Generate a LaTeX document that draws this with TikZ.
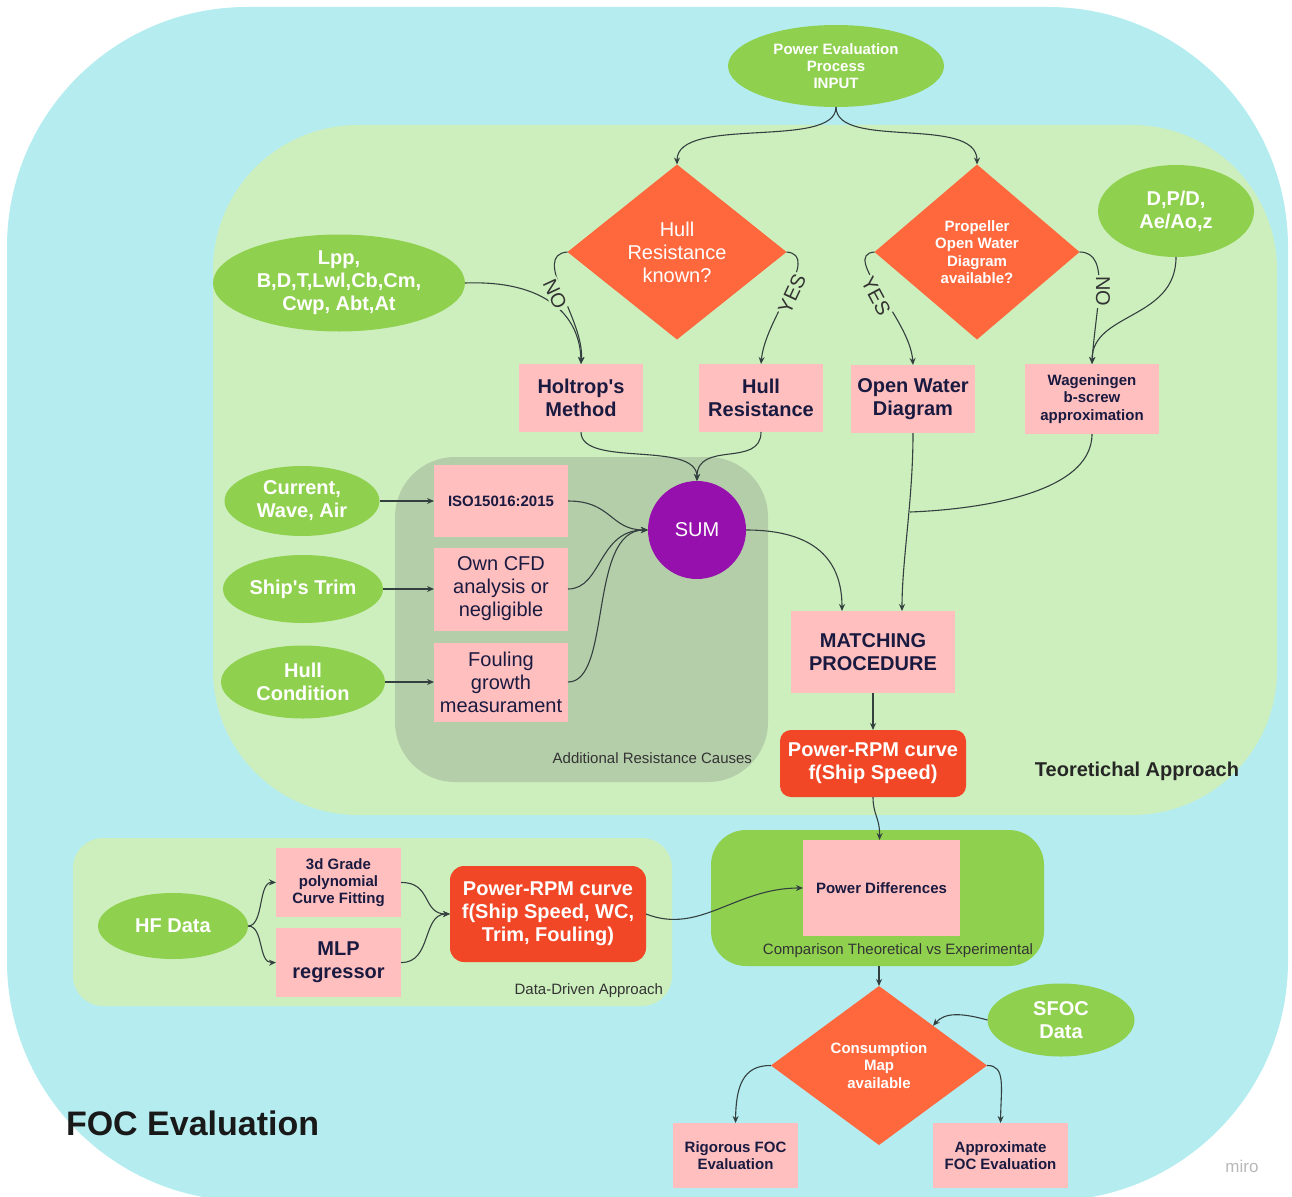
\documentclass[tikz,border=0pt]{standalone}
\usepackage{fontspec}
\setmainfont{Liberation Sans}
\usetikzlibrary{arrows.meta,shapes.geometric}

\definecolor{bluebg}{RGB}{180,236,240}
\definecolor{greenbg}{RGB}{205,239,189}
\definecolor{graybg}{RGB}{181,206,170}
\definecolor{ellg}{RGB}{143,209,79}
\definecolor{dia}{RGB}{255,104,61}
\definecolor{redbox}{RGB}{242,71,38}
\definecolor{pinkbox}{RGB}{255,191,191}
\definecolor{purp}{RGB}{149,16,172}
\definecolor{navy}{RGB}{26,26,64}
\definecolor{linec}{RGB}{52,64,64}
\definecolor{lbltext}{RGB}{51,51,51}

\newcommand\szbig{\fontsize{20}{23}\selectfont}
\newcommand\szsmall{\fontsize{15}{17.3}\selectfont}
\newcommand\sztitle{\fontsize{34}{39}\selectfont}

\tikzset{
  every node/.style={outer sep=0pt, inner sep=0pt},
  conn/.style={draw=linec, line width=1.1pt, -{Stealth[length=7pt,width=6pt]}},
  plainline/.style={draw=linec, line width=1.1pt},
  inellipse/.style={ellipse, fill=ellg, text=white, align=center, font=\bfseries\szbig},
  decision/.style={diamond, fill=dia, text=white, align=center},
  pinkrect/.style={rectangle, fill=pinkbox, text=navy, align=center},
  redrect/.style={rectangle, rounded corners=11pt, fill=redbox, text=white, align=center, font=\bfseries\szbig},
  branch/.style={fill=greenbg, inner sep=1.5pt, text=lbltext, font=\szbig},
  regionlabel/.style={text=lbltext, font=\szsmall}
}

\begin{document}
\begin{tikzpicture}[x=1pt,y=-1pt]
\useasboundingbox (0,0) rectangle (1292,1196);
\clip (0,0) rectangle (1292,1196);

% background regions
\fill[bluebg, rounded corners=240pt] (7,7) rectangle (1288,1201);
\fill[greenbg, rounded corners=145pt] (213,125) rectangle (1277,815);
\fill[graybg, rounded corners=60pt] (395,457) rectangle (768,782);
\fill[greenbg, rounded corners=30pt] (73,838) rectangle (672,1006);
\node[fill=ellg, rounded corners=35pt, minimum width=333, minimum height=136] (cmp) at (877.5,898) {};

% region captions
\node[regionlabel, anchor=east] (capar) at (752,758) {Additional Resistance Causes};
\node[text=black!85, font=\bfseries\szbig] (capta) at (1137,771) {Teoretichal Approach};
\node[regionlabel, anchor=east] (capdd) at (663,991) {Data-Driven Approach};
\node[regionlabel] (capcmp) at (898,951) {Comparison Theoretical vs Experimental};
\node[text=black!90, font=\bfseries\sztitle, anchor=west] (title) at (66,1123) {FOC Evaluation};
\node[text=black!28, font=\fontsize{17}{20}\selectfont] (wm) at (1242,1166) {miro};

% input and decisions
\node[inellipse, font=\bfseries\szsmall, minimum width=216, minimum height=82] (inp) at (836,66) {Power Evaluation\\Process\\INPUT};
\node[decision, font=\szbig, minimum width=219, minimum height=175] (d1) at (677,252) {Hull\\Resistance\\known?};
\node[decision, font=\bfseries\szsmall, minimum width=205, minimum height=175] (d2) at (977,252) {Propeller\\Open Water\\Diagram\\available?};

% hull and propeller inputs
\node[inellipse, minimum width=252, minimum height=97] (lpp) at (339,283) {Lpp,\\B,D,T,Lwl,Cb,Cm,\\Cwp, Abt,At};
\node[inellipse, minimum width=156, minimum height=92] (dpd) at (1176,211) {D,P/D,\\Ae/Ao,z};

\node[pinkrect, font=\bfseries\szbig, minimum width=124, minimum height=68] (holt) at (581,398) {Holtrop\textquotesingle s\\Method};
\node[pinkrect, font=\bfseries\szbig, minimum width=124, minimum height=68] (hr) at (761,398) {Hull\\Resistance};
\node[pinkrect, font=\bfseries\szbig, minimum width=124, minimum height=68] (ow) at (913,399) {Open Water\\Diagram};
\node[pinkrect, font=\bfseries\szsmall, minimum width=134, minimum height=70] (wag) at (1092,399) {Wageningen\\b-screw\\approximation};

% additional resistance causes
\node[inellipse, minimum width=155, minimum height=70] (cur) at (302,501) {Current,\\Wave, Air};
\node[inellipse, minimum width=160, minimum height=68] (trim) at (303,589) {Ship\textquotesingle s Trim};
\node[inellipse, minimum width=164, minimum height=73] (hc) at (303,682) {Hull\\Condition};

\node[pinkrect, font=\bfseries\szsmall, minimum width=134, minimum height=72] (iso) at (501,501) {ISO15016:2015};
\node[pinkrect, font=\szbig, minimum width=134, minimum height=83] (cfd) at (501,589) {Own CFD\\analysis or\\negligible};
\node[pinkrect, font=\szbig, minimum width=134, minimum height=79] (foul) at (501,682) {Fouling\\growth\\measurament};

\node[circle, fill=purp, text=white, font=\szbig, minimum size=98] (sum) at (697,530) {SUM};

\node[pinkrect, font=\bfseries\szbig, minimum width=164, minimum height=82] (match) at (873,652) {MATCHING\\PROCEDURE};
\node[redrect, minimum width=186, minimum height=67] (rpmA) at (873,763.5) {Power-RPM curve\\f(Ship Speed)};

% data-driven approach
\node[inellipse, minimum width=150, minimum height=66] (hf) at (173,926) {HF Data};
\node[pinkrect, font=\bfseries\szsmall, minimum width=125, minimum height=69] (poly) at (338.5,882.5) {3d Grade\\polynomial\\Curve Fitting};
\node[pinkrect, font=\bfseries\szbig, minimum width=125, minimum height=69] (mlp) at (338.5,962.5) {MLP\\regressor};
\node[redrect, rounded corners=14pt, minimum width=196, minimum height=96] (rpmB) at (548,914) {Power-RPM curve\\f(Ship Speed, WC,\\Trim, Fouling)};

% comparison and consumption
\node[pinkrect, font=\bfseries\szsmall, minimum width=157, minimum height=96] (pd) at (881.5,888) {Power Differences};
\node[decision, font=\bfseries\szsmall, minimum width=216, minimum height=159] (cons) at (879,1065.5) {Consumption\\Map\\available};
\node[inellipse, minimum width=147, minimum height=73] (sfoc) at (1061,1020) {SFOC\\Data};
\node[pinkrect, font=\bfseries\szsmall, minimum width=125, minimum height=65] (rig) at (735.5,1155.5) {Rigorous FOC\\Evaluation};
\node[pinkrect, font=\bfseries\szsmall, minimum width=135, minimum height=65] (app) at (1000.5,1155.5) {Approximate\\FOC Evaluation};

% connectors: input to decisions
\draw[conn] (inp.south) .. controls (836,150) and (677,115) .. (d1.north);
\draw[conn] (inp.south) .. controls (836,150) and (977,115) .. (d2.north);

% decision branches
\draw[conn] (d1.west) .. controls (530,255) and (585,320) .. (holt.north);
\draw[conn] (lpp.east) .. controls (545,280) and (580,315) .. (holt.north);
\draw[conn] (d1.east) .. controls (822,255) and (765,318) .. (hr.north);
\draw[conn] (d2.west) .. controls (840,255) and (910,318) .. (ow.north);
\draw[conn] (d2.east) .. controls (1112,252) and (1095,310) .. (wag.north);
\draw[conn] (dpd.south) .. controls (1176,320) and (1092,312) .. (wag.north);

\node[branch, rotate=-65] (lno) at (555,294) {NO};
\node[branch, rotate=65] (lyes) at (792,294) {YES};
\node[branch, rotate=-62] (ryes) at (876,296) {YES};
\node[branch, rotate=-90] (rno) at (1103,291) {NO};

% resistance contributions to the sum
\draw[conn] (holt.south) .. controls (581,468) and (697,440) .. (sum.north);
\draw[conn] (hr.south) .. controls (761,468) and (697,440) .. (sum.north);
\draw[conn] (cur.east) -- (iso.west);
\draw[conn] (trim.east) -- (cfd.west);
\draw[conn] (hc.east) -- (foul.west);
\draw[conn] (iso.east) .. controls (612,501) and (610,530) .. (sum.west);
\draw[conn] (cfd.east) .. controls (602,589) and (598,530) .. (sum.west);
\draw[conn] (foul.east) .. controls (612,682) and (588,530) .. (sum.west);

% matching procedure
\coordinate (join) at (910,512);
\draw[conn] (sum.east) .. controls (815,530) and (842,560) .. ([xshift=-31pt]match.north);
\draw[conn] (ow.south) .. controls (913,500) and (902,560) .. ([xshift=29pt]match.north);
\draw[plainline] (wag.south) .. controls (1092,497) and (965,510) .. (join);
\draw[conn] (match.south) -- (rpmA.north);
\draw[conn] (rpmA.south) .. controls (873,815) and (880,818) .. ([xshift=-2pt]pd.north);

% data-driven branch
\draw[conn] (hf.east) .. controls (264,926) and (258,882) .. (poly.west);
\draw[conn] (hf.east) .. controls (264,926) and (258,963) .. (mlp.west);
\draw[conn] (poly.east) .. controls (432,882) and (422,914) .. (rpmB.west);
\draw[conn] (mlp.east) .. controls (432,963) and (422,914) .. (rpmB.west);
\draw[conn] (rpmB.east) .. controls (700,935) and (735,888) .. (pd.west);

% consumption evaluation
\draw[conn] (cons.north |- cmp.south) -- (cons.north);
\draw[conn] (sfoc.west) .. controls (962,1013) and (945,1012) .. (cons.north east);
\draw[conn] (cons.west) .. controls (742,1065) and (736,1088) .. (rig.north);
\draw[conn] (cons.east) .. controls (1006,1065) and (1001,1088) .. (app.north);
\end{tikzpicture}
\end{document}
